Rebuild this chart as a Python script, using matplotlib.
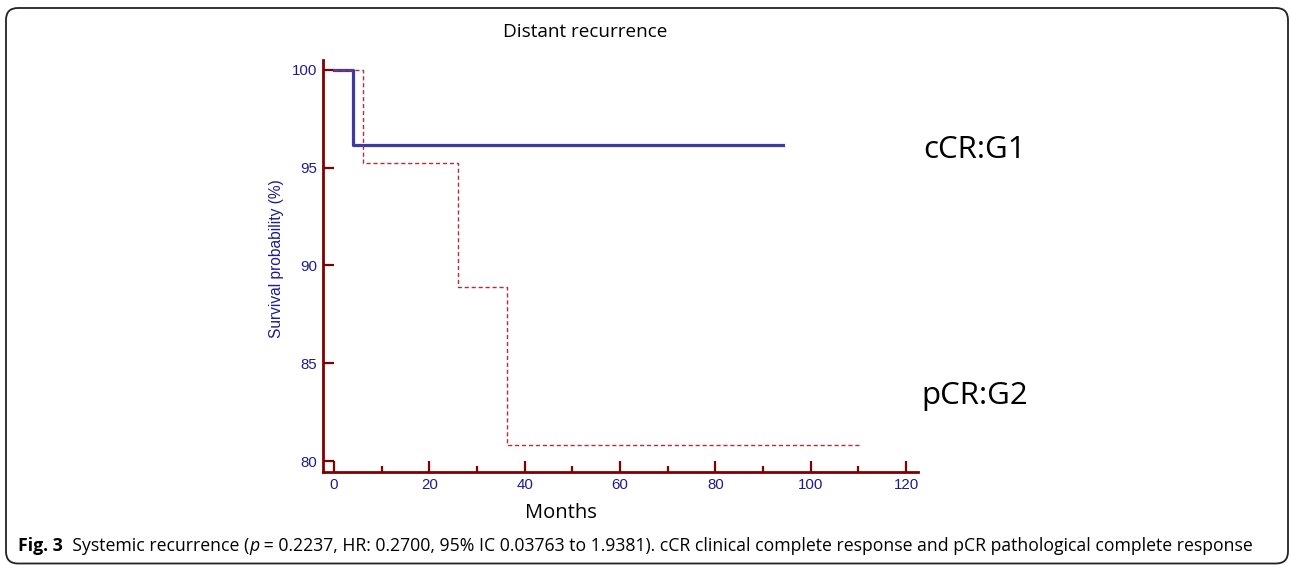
import matplotlib
matplotlib.use('Agg')
import matplotlib.pyplot as plt
from matplotlib.patches import FancyBboxPatch
from matplotlib.ticker import MultipleLocator

# Kaplan-Meier steps
g1_months = [0, 4.0, 94.2]
g1_surv = [100, 96.15, 96.15]
g2_months = [0, 6.1, 26.0, 36.3, 110.3]
g2_surv = [100, 95.24, 88.89, 80.81, 80.81]

x_ticks = [0, 20, 40, 60, 80, 100, 120]
y_ticks = [80, 85, 90, 95, 100]

axis_col = '#800000'
label_col = '#1c1c8c'

fig = plt.figure(figsize=(12.9, 5.65), dpi=100)
W, H = 1290.0, 565.0

# axes placed in pixel terms of the reference
ax = fig.add_axes([323 / W, (H - 472) / H, 595 / W, 412 / H])
ax.set_xlim(-2.3, 122.5)
ax.set_ylim(79.44, 100.5)

ax.step(g1_months, g1_surv, where='post', color='#3b3ba3', lw=2.3)
ax.step(g2_months, g2_surv, where='post', color='#b03038', lw=1.0,
        linestyle=(0, (3, 2)))

for s in ['top', 'right']:
    ax.spines[s].set_visible(False)
for s in ['left', 'bottom']:
    ax.spines[s].set_color(axis_col)
    ax.spines[s].set_linewidth(2.0)

ax.set_xticks(x_ticks)
ax.set_yticks(y_ticks)
ax.xaxis.set_minor_locator(MultipleLocator(10))
ax.tick_params(which='major', direction='in', length=8, width=1.6,
               color=axis_col, labelcolor=label_col, labelsize=10.8,
               labelfontfamily='Liberation Sans', pad=4)
ax.tick_params(axis='x', which='minor', direction='in', length=4.5,
               width=1.6, color=axis_col)
ax.patch.set_alpha(0)

fig.text(277 / W, 1 - 259 / H, 'Survival probability (%)', rotation=90,
         ha='center', va='center', color=label_col, fontsize=11.2,
         family='Liberation Sans')

fig.text(585 / W, 1 - 32 / H, 'Distant recurrence', ha='center',
         va='center', fontsize=13.6, family='Open Sans')
fig.text(561 / W, 1 - 513 / H, 'Months', ha='center', va='center',
         fontsize=14.5, family='Open Sans')
fig.text(975 / W, 1 - 150 / H, 'cCR:G1', ha='center', va='center',
         fontsize=22.5, family='Open Sans')
fig.text(975 / W, 1 - 396 / H, 'pCR:G2', ha='center', va='center',
         fontsize=22.5, family='Open Sans')

# caption: bold "Fig. 3", italic p, rest regular, chained left to right
cap_size = 12.7
prev = fig.text(18 / W, 1 - 555 / H, 'Fig. 3', fontsize=cap_size,
                family='Open Sans', weight='bold', va='bottom')
pieces = [('  Systemic recurrence (', 'normal'),
          ('p', 'italic'),
          (' = 0.2237, HR: 0.2700, 95% IC 0.03763 to 1.9381). cCR clinical '
           'complete response and pCR pathological complete response', 'normal')]
for txt, style in pieces:
    prev = ax.annotate(txt, xy=(1, 0), xycoords=prev, fontsize=cap_size,
                       family='Open Sans', style=style, va='bottom',
                       annotation_clip=False)

border = FancyBboxPatch((6, 1.5), 1282, 555.5,
                        boxstyle='round,pad=0,rounding_size=12',
                        transform=None, fill=False, edgecolor='#222222',
                        lw=1.3)
fig.patches.append(border)

fig.savefig('out.png', dpi=100)
